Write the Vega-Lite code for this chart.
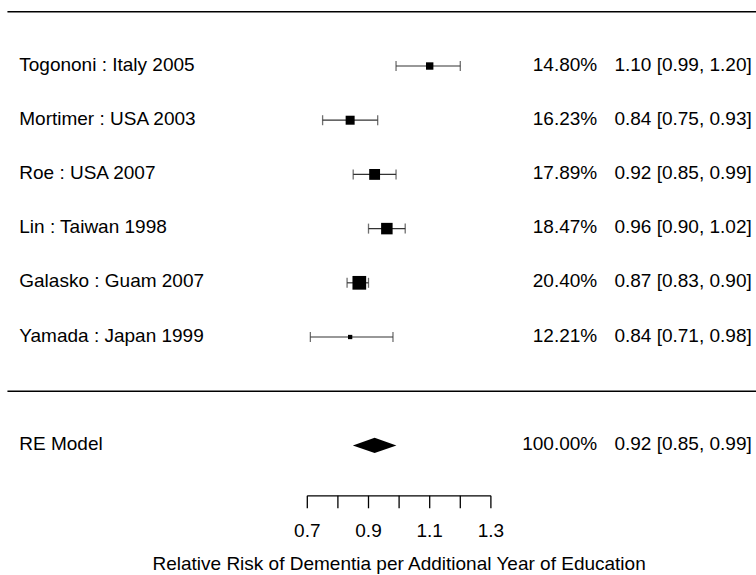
{
  "$schema": "https://vega.github.io/schema/vega-lite/v6.json",
  "width": 756,
  "height": 575,
  "padding": 0,
  "autosize": {"type": "none"},
  "config": {"view": {"stroke": null}, "font": "Liberation Sans", "text": {"font": "Liberation Sans", "fontSize": 19, "color": "#000000"}},
  "datasets": {
    "studies": [
      {"study": "Togononi : Italy 2005", "row": 6, "est": 1.10, "lb": 0.99, "ub": 1.20, "weight": 0.1480},
      {"study": "Mortimer : USA 2003", "row": 5, "est": 0.84, "lb": 0.75, "ub": 0.93, "weight": 0.1623},
      {"study": "Roe : USA 2007", "row": 4, "est": 0.92, "lb": 0.85, "ub": 0.99, "weight": 0.1789},
      {"study": "Lin : Taiwan 1998", "row": 3, "est": 0.96, "lb": 0.90, "ub": 1.02, "weight": 0.1847},
      {"study": "Galasko : Guam 2007", "row": 2, "est": 0.87, "lb": 0.83, "ub": 0.90, "weight": 0.2040},
      {"study": "Yamada : Japan 1999", "row": 1, "est": 0.84, "lb": 0.71, "ub": 0.98, "weight": 0.1221}
    ],
    "summary": [
      {"study": "RE Model", "row": -1, "est": 0.92, "lb": 0.85, "ub": 0.99, "weight": 1.0}
    ],
    "ticks": [{"v": 0.7}, {"v": 0.8}, {"v": 0.9}, {"v": 1.0}, {"v": 1.1}, {"v": 1.2}, {"v": 1.3}],
    "labels": [{"v": 0.7}, {"v": 0.9}, {"v": 1.1}, {"v": 1.3}],
    "one": [{"title": "Relative Risk of Dementia per Additional Year of Education"}]
  },
  "layer": [
    {
      "data": {"name": "one"},
      "mark": {"type": "rule", "color": "#000000", "strokeWidth": 1.5},
      "encoding": {
        "x": {"datum": -0.28, "type": "quantitative", "scale": {"domain": [-0.3043, 2.1664], "nice": false, "zero": false}, "axis": null},
        "x2": {"datum": 2.1664},
        "y": {"datum": 7, "type": "quantitative", "scale": {"domain": [-3.391, 7.218], "nice": false, "zero": false}, "axis": null}
      }
    },
    {
      "data": {"name": "one"},
      "mark": {"type": "rule", "color": "#000000", "strokeWidth": 1.5},
      "encoding": {
        "x": {"datum": -0.28, "type": "quantitative", "scale": {"domain": [-0.3043, 2.1664], "nice": false, "zero": false}, "axis": null},
        "x2": {"datum": 2.1664},
        "y": {"datum": 0, "type": "quantitative", "scale": {"domain": [-3.391, 7.218], "nice": false, "zero": false}, "axis": null}
      }
    },
    {
      "data": {"name": "studies"},
      "layer": [
        {
          "mark": {"type": "rule", "color": "#333333", "strokeWidth": 1.2},
          "encoding": {
            "x": {"field": "lb", "type": "quantitative", "scale": {"domain": [-0.3043, 2.1664], "nice": false, "zero": false}, "axis": null},
            "x2": {"field": "ub"},
            "y": {"field": "row", "type": "quantitative", "scale": {"domain": [-3.391, 7.218], "nice": false, "zero": false}, "axis": null}
          }
        },
        {
          "mark": {"type": "tick", "orient": "vertical", "color": "#333333", "thickness": 1.3, "size": 10},
          "encoding": {
            "x": {"field": "lb", "type": "quantitative", "scale": {"domain": [-0.3043, 2.1664], "nice": false, "zero": false}, "axis": null},
            "y": {"field": "row", "type": "quantitative", "scale": {"domain": [-3.391, 7.218], "nice": false, "zero": false}, "axis": null}
          }
        },
        {
          "mark": {"type": "tick", "orient": "vertical", "color": "#333333", "thickness": 1.3, "size": 10},
          "encoding": {
            "x": {"field": "ub", "type": "quantitative", "scale": {"domain": [-0.3043, 2.1664], "nice": false, "zero": false}, "axis": null},
            "y": {"field": "row", "type": "quantitative", "scale": {"domain": [-3.391, 7.218], "nice": false, "zero": false}, "axis": null}
          }
        },
        {
          "mark": {"type": "point", "shape": "square", "filled": true, "color": "#000000", "opacity": 1},
          "encoding": {
            "x": {"field": "est", "type": "quantitative", "scale": {"domain": [-0.3043, 2.1664], "nice": false, "zero": false}, "axis": null},
            "y": {"field": "row", "type": "quantitative", "scale": {"domain": [-3.391, 7.218], "nice": false, "zero": false}, "axis": null},
            "size": {"field": "weight", "type": "quantitative", "scale": {"type": "pow", "exponent": 3, "domain": [0.1221, 0.2040], "range": [18.5, 188], "zero": false}, "legend": null}
          }
        }
      ]
    },
    {
      "data": {"name": "summary"},
      "mark": {"type": "point", "shape": "M-1,0L0,-0.35L1,0L0,0.35Z", "filled": true, "color": "#000000", "opacity": 1, "size": 1900},
      "encoding": {
        "x": {"field": "est", "type": "quantitative", "scale": {"domain": [-0.3043, 2.1664], "nice": false, "zero": false}, "axis": null},
        "y": {"field": "row", "type": "quantitative", "scale": {"domain": [-3.391, 7.218], "nice": false, "zero": false}, "axis": null}
      }
    },
    {
      "data": {"name": "studies"},
      "transform": [{"calculate": "format(datum.est, '.2f') + ' [' + format(datum.lb, '.2f') + ', ' + format(datum.ub, '.2f') + ']'", "as": "ci"}],
      "layer": [
        {
          "mark": {"type": "text", "align": "left", "baseline": "middle", "dy": -1.5},
          "encoding": {
            "x": {"datum": -0.2414, "type": "quantitative", "scale": {"domain": [-0.3043, 2.1664], "nice": false, "zero": false}, "axis": null},
            "y": {"field": "row", "type": "quantitative", "scale": {"domain": [-3.391, 7.218], "nice": false, "zero": false}, "axis": null},
            "text": {"field": "study"}
          }
        },
        {
          "mark": {"type": "text", "align": "right", "baseline": "middle", "dy": -1.5},
          "encoding": {
            "x": {"datum": 1.6475, "type": "quantitative", "scale": {"domain": [-0.3043, 2.1664], "nice": false, "zero": false}, "axis": null},
            "y": {"field": "row", "type": "quantitative", "scale": {"domain": [-3.391, 7.218], "nice": false, "zero": false}, "axis": null},
            "text": {"field": "weight", "format": ".2%"}
          }
        },
        {
          "mark": {"type": "text", "align": "right", "baseline": "middle", "dy": -1.5},
          "encoding": {
            "x": {"datum": 2.1525, "type": "quantitative", "scale": {"domain": [-0.3043, 2.1664], "nice": false, "zero": false}, "axis": null},
            "y": {"field": "row", "type": "quantitative", "scale": {"domain": [-3.391, 7.218], "nice": false, "zero": false}, "axis": null},
            "text": {"field": "ci"}
          }
        }
      ]
    },
    {
      "data": {"name": "summary"},
      "transform": [{"calculate": "format(datum.est, '.2f') + ' [' + format(datum.lb, '.2f') + ', ' + format(datum.ub, '.2f') + ']'", "as": "ci"}],
      "layer": [
        {
          "mark": {"type": "text", "align": "left", "baseline": "middle", "dy": -1.5},
          "encoding": {
            "x": {"datum": -0.2414, "type": "quantitative", "scale": {"domain": [-0.3043, 2.1664], "nice": false, "zero": false}, "axis": null},
            "y": {"field": "row", "type": "quantitative", "scale": {"domain": [-3.391, 7.218], "nice": false, "zero": false}, "axis": null},
            "text": {"field": "study"}
          }
        },
        {
          "mark": {"type": "text", "align": "right", "baseline": "middle", "dy": -1.5},
          "encoding": {
            "x": {"datum": 1.6475, "type": "quantitative", "scale": {"domain": [-0.3043, 2.1664], "nice": false, "zero": false}, "axis": null},
            "y": {"field": "row", "type": "quantitative", "scale": {"domain": [-3.391, 7.218], "nice": false, "zero": false}, "axis": null},
            "text": {"field": "weight", "format": ".2%"}
          }
        },
        {
          "mark": {"type": "text", "align": "right", "baseline": "middle", "dy": -1.5},
          "encoding": {
            "x": {"datum": 2.1525, "type": "quantitative", "scale": {"domain": [-0.3043, 2.1664], "nice": false, "zero": false}, "axis": null},
            "y": {"field": "row", "type": "quantitative", "scale": {"domain": [-3.391, 7.218], "nice": false, "zero": false}, "axis": null},
            "text": {"field": "ci"}
          }
        }
      ]
    },
    {
      "data": {"name": "one"},
      "mark": {"type": "rule", "color": "#000000", "strokeWidth": 1.3},
      "encoding": {
        "x": {"datum": 0.7, "type": "quantitative", "scale": {"domain": [-0.3043, 2.1664], "nice": false, "zero": false}, "axis": null},
        "x2": {"datum": 1.3},
        "y": {"datum": -1.93, "type": "quantitative", "scale": {"domain": [-3.391, 7.218], "nice": false, "zero": false}, "axis": null}
      }
    },
    {
      "data": {"name": "ticks"},
      "mark": {"type": "rule", "color": "#000000", "strokeWidth": 1.3},
      "encoding": {
        "x": {"field": "v", "type": "quantitative", "scale": {"domain": [-0.3043, 2.1664], "nice": false, "zero": false}, "axis": null},
        "y": {"datum": -1.93, "type": "quantitative", "scale": {"domain": [-3.391, 7.218], "nice": false, "zero": false}, "axis": null},
        "y2": {"datum": -2.16}
      }
    },
    {
      "data": {"name": "labels"},
      "mark": {"type": "text", "align": "center", "baseline": "middle"},
      "encoding": {
        "x": {"field": "v", "type": "quantitative", "scale": {"domain": [-0.3043, 2.1664], "nice": false, "zero": false}, "axis": null},
        "y": {"datum": -2.57, "type": "quantitative", "scale": {"domain": [-3.391, 7.218], "nice": false, "zero": false}, "axis": null},
        "text": {"field": "v", "format": ".1f"}
      }
    },
    {
      "data": {"name": "one"},
      "mark": {"type": "text", "align": "center", "baseline": "middle"},
      "encoding": {
        "x": {"datum": 1.0, "type": "quantitative", "scale": {"domain": [-0.3043, 2.1664], "nice": false, "zero": false}, "axis": null},
        "y": {"datum": -3.18, "type": "quantitative", "scale": {"domain": [-3.391, 7.218], "nice": false, "zero": false}, "axis": null},
        "text": {"field": "title"}
      }
    }
  ]
}
